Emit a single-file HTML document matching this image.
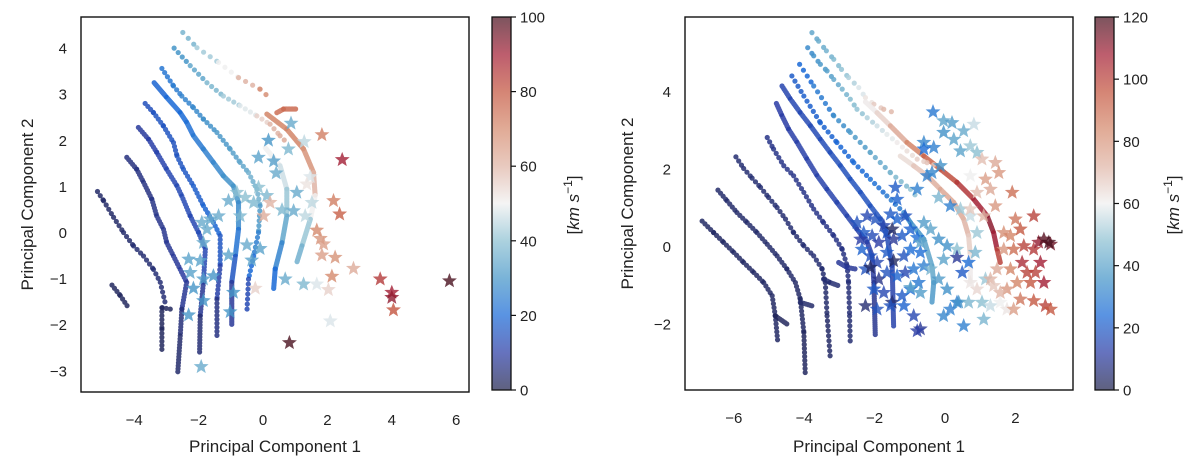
<!DOCTYPE html>
<html><head><meta charset="utf-8"><style>
body{margin:0;background:#fff;}
svg{display:block;font-family:"Liberation Sans",sans-serif;}
</style></head><body>
<svg id="fig" width="1200" height="462" viewBox="0 0 1200 462" xmlns="http://www.w3.org/2000/svg">
<defs>
<clipPath id="clipL"><rect x="81" y="17" width="388" height="375"/></clipPath>
<clipPath id="clipR"><rect x="685" y="17" width="388" height="373"/></clipPath>
</defs>
</svg>
<script>
// ---------- DATA: left panel ----------
const leftTickX = [-4,-2,0,2,4,6];
const leftTickY = [4,3,2,1,0,-1,-2,-3];
const leftCbarTicks = [0,20,40,60,80,100];
const leftVmax = 100;
const leftTracks = [
 [[-2.49,4.35,35],[-2.05,4.02,40],[-1.38,3.70,45],[-0.76,3.37,55],[-0.09,3.12,65],[0.22,2.92,72]],
 [[0.43,2.61,75],[0.64,2.69,75],[1.05,2.69,77]],
 [[0.12,2.58,70],[0.74,2.25,72],[1.26,1.82,70],[1.57,1.31,65],[1.62,0.81,55],[1.47,0.30,45],[1.21,-0.28,38],[1.05,-0.64,35]],
 [[-2.76,4.01,28],[-2.26,3.63,32],[-1.74,3.26,36],[-1.23,2.97,40],[-0.71,2.76,45],[-0.19,2.54,52],[0.22,2.36,58],[0.53,2.11,62],[0.74,1.96,62]],
 [[0.07,1.85,52],[0.53,1.46,48],[0.74,0.95,45],[0.74,0.37,38],[0.59,-0.21,30],[0.38,-0.78,22],[0.33,-1.22,18]],
 [[-3.14,3.57,22],[-2.78,3.19,24],[-2.52,2.97,25],[-2.16,2.72,27],[-1.85,2.47,28],[-1.43,2.18,30],[-1.02,1.82,32],[-0.71,1.53,33],[-0.45,1.31,35],[-0.19,0.95,38],[-0.09,0.59,35],[-0.14,0.01,28],[-0.29,-0.50,22],[-0.45,-1.00,18],[-0.50,-1.72,8]],
 [[-3.38,3.26,18],[-2.99,2.94,20],[-2.57,2.61,20],[-2.37,2.40,21],[-2.16,2.11,22],[-1.85,1.82,25],[-1.54,1.53,26],[-1.23,1.24,28],[-0.92,1.02,30],[-0.76,0.66,30],[-0.76,0.08,25],[-0.86,-0.50,20],[-0.97,-1.07,12],[-0.97,-2.01,5]],
 [[-3.66,2.81,14],[-3.40,2.61,15],[-3.09,2.32,16],[-2.78,1.96,15],[-2.67,1.67,15],[-2.47,1.38,16],[-2.16,1.02,17],[-1.85,0.59,18],[-1.54,0.23,20],[-1.33,-0.06,18],[-1.33,-0.71,14],[-1.43,-1.44,8],[-1.43,-2.30,4]],
 [[-3.87,2.29,8],[-3.55,2.03,10],[-3.30,1.75,11],[-2.99,1.38,12],[-2.67,1.02,13],[-2.52,0.80,13],[-2.26,0.37,13],[-2.00,0.01,12],[-1.79,-0.35,15],[-1.85,-1.07,10],[-1.95,-1.80,6],[-1.97,-2.63,3]],
 [[-4.23,1.64,5],[-3.92,1.38,6],[-3.71,1.10,6],[-3.45,0.73,6],[-3.30,0.37,7],[-3.09,0.08,7],[-2.99,-0.21,8],[-2.78,-0.50,8],[-2.57,-0.79,9],[-2.37,-1.07,10],[-2.52,-1.65,6],[-2.57,-2.23,4],[-2.65,-3.06,3]],
 [[-5.14,0.90,3],[-4.95,0.70,3],[-4.64,0.34,3],[-4.33,0.01,3],[-4.02,-0.28,4],[-3.71,-0.50,4],[-3.40,-0.79,4],[-3.19,-1.07,5],[-3.04,-1.51,4]],
 [[-2.88,-1.65,2],[-3.14,-1.62,2],[-3.14,-2.09,2],[-3.14,-2.56,2]],
 [[-4.69,-1.13,2],[-4.43,-1.36,2],[-4.18,-1.62,2]]
];
const leftStarX = [0.87,1.83,2.46,0.17,1.28,0.79,0.33,-0.14,0.41,1.47,1.05,2.19,2.38,0.59,0.95,1.52,0.02,1.31,1.67,1.78,1.88,1.83,2.24,2.81,2.14,3.64,4.00,4.00,4.05,5.79,2.09,0.82,1.26,1.67,2.03,-0.24,0.69,-0.50,-0.09,-0.35,-1.07,-1.54,-1.85,-2.26,-2.16,-2.31,-1.95,-1.85,-1.02,-2.31,-1.92,-0.92,-1.64,-1.74,-1.85,-1.90,-1.38,-1.07,-0.81,-0.55,-0.29,-0.14,0.12,-0.71,0.22,1.36];
const leftStarY = [2.38,2.13,1.59,2.01,1.98,1.82,1.56,1.64,1.30,1.22,0.88,0.70,0.41,0.50,0.48,0.66,0.37,0.37,0.06,-0.12,-0.24,-0.48,-0.53,-0.77,-0.94,-1.00,-1.29,-1.40,-1.67,-1.04,-1.91,-2.38,-1.11,-1.11,-1.23,-1.20,-1.00,-0.26,-0.34,-0.59,-0.48,-0.93,-1.00,-0.86,-1.20,-0.57,-0.60,-1.47,-1.71,-1.78,-2.90,-1.29,0.30,0.08,-0.21,0.23,0.37,0.70,0.88,0.77,0.66,0.99,0.81,0.37,0.66,1.06];
const leftStarV = [35,72,90,30,45,38,32,33,35,48,35,72,78,38,35,45,62,45,70,67,65,65,68,62,70,85,90,92,80,100,48,100,38,48,55,55,35,35,33,33,33,30,32,33,30,33,33,30,30,30,35,30,35,35,35,35,35,35,40,40,38,40,38,38,60,52];

// ---------- DATA: right panel ----------
const rightTickX = [-6,-4,-2,0,2];
const rightTickY = [4,2,0,-2];
const rightCbarTicks = [0,20,40,60,80,100,120];
const rightVmax = 120;
const rightTracks = [
 [[-3.78,5.54,40],[-3.59,5.32,42],[-3.37,5.07,43],[-3.16,4.85,45],[-2.94,4.59,48],[-2.74,4.38,50],[-2.45,4.12,55],[-2.26,3.86,60],[-2.02,3.69,65],[-1.74,3.56,70],[-1.50,3.49,72]],
 [[-2.26,3.75,60],[-1.93,3.47,62],[-1.55,3.13,70],[-1.08,2.70,80],[-0.60,2.35,90],[-0.13,2.01,95],[0.34,1.67,100],[0.82,1.23,105],[1.20,0.80,110],[1.38,0.37,112],[1.48,-0.06,105],[1.57,-0.40,95]],
 [[-3.90,5.15,32],[-3.73,4.94,34],[-3.54,4.72,36],[-3.35,4.55,38],[-3.16,4.33,40],[-2.92,4.08,43],[-2.69,3.82,46],[-2.50,3.56,48],[-2.21,3.34,50],[-1.93,3.13,55],[-1.65,2.91,57],[-1.36,2.70,60],[-1.08,2.48,62],[-0.79,2.27,65],[-0.51,2.18,68],[-0.23,2.10,70]],
 [[-1.27,2.35,62],[-0.89,2.10,66],[-0.51,1.84,72],[-0.13,1.49,75],[0.25,1.15,76],[0.53,0.72,74],[0.67,0.29,70],[0.72,-0.23,64],[0.72,-0.92,58]],
 [[-4.13,4.72,22],[-3.73,4.16,26],[-3.16,3.39,32],[-2.69,2.96,36],[-2.12,2.44,40],[-1.55,1.92,44],[-0.98,1.49,48],[-0.79,1.28,50]],
 [[-4.35,4.42,20],[-4.01,3.90,21],[-3.54,3.21,22],[-3.07,2.70,23],[-2.59,2.18,24],[-2.12,1.75,25],[-1.65,1.32,27],[-1.17,0.89,30]],
 [[-1.17,0.89,30],[-0.98,0.63,33],[-0.60,0.20,38],[-0.37,-0.49,42],[-0.32,-0.92,40],[-0.37,-1.43,35]],
 [[-4.63,4.16,14],[-4.39,3.82,15],[-4.11,3.47,15],[-3.82,3.13,16],[-3.54,2.78,16],[-3.26,2.44,17],[-2.97,2.10,17],[-2.69,1.75,18],[-2.40,1.41,18],[-2.12,1.06,18],[-1.83,0.72,18],[-1.65,0.29,17],[-1.50,-0.49,15],[-1.46,-2.04,12]],
 [[-4.79,3.71,12],[-4.63,3.39,12],[-4.44,3.04,12],[-4.20,2.70,13],[-3.92,2.27,13],[-3.63,1.84,13],[-3.35,1.49,14],[-3.07,1.15,14],[-2.78,0.80,14],[-2.50,0.46,14],[-2.21,0.12,13],[-2.07,-0.23,12],[-2.02,-0.92,10],[-1.98,-2.30,8]],
 [[-5.05,2.83,8],[-4.87,2.53,8],[-4.58,2.10,8],[-4.30,1.84,8],[-4.01,1.41,8],[-3.73,0.98,8],[-3.45,0.63,8],[-3.16,0.29,8],[-2.92,-0.06,7],[-2.78,-0.49,7],[-2.74,-0.92,6],[-2.71,-1.78,5],[-2.69,-2.55,5]],
 [[-5.94,2.33,5],[-5.72,2.03,5],[-5.48,1.78,5],[-5.24,1.54,5],[-5.01,1.28,5],[-4.77,1.02,5],[-4.53,0.72,5],[-4.30,0.37,5],[-4.01,0.03,5],[-3.73,-0.23,5],[-3.49,-0.57,5],[-3.40,-0.92,4],[-3.35,-1.78,4],[-3.26,-2.86,3]],
 [[-6.45,1.47,4],[-6.19,1.19,4],[-5.91,0.89,4],[-5.62,0.63,4],[-5.34,0.37,4],[-5.05,0.07,4],[-4.77,-0.23,4],[-4.49,-0.57,4],[-4.25,-0.92,4],[-4.11,-1.35,3],[-4.01,-2.21,3],[-3.97,-3.29,2]],
 [[-6.90,0.67,3],[-6.57,0.37,3],[-6.29,0.12,3],[-6.00,-0.14,3],[-5.72,-0.40,3],[-5.43,-0.66,3],[-5.15,-0.92,3],[-4.91,-1.26,3],[-4.82,-1.78,3],[-4.75,-2.47,3]],
 [[-4.82,-1.78,2],[-4.49,-1.99,2]],
 [[-3.02,-0.40,10],[-2.78,-0.53,10],[-2.53,-0.57,10]],
 [[-3.45,-0.83,5],[-3.26,-0.92,5],[-3.02,-1.00,5]],
 [[-4.11,-1.43,4],[-3.78,-1.52,4]]
];
const rightStarX = [-2.21,-1.98,-1.74,-1.55,-1.36,-1.13,-2.31,-2.07,-1.88,-1.65,-1.46,-1.22,-0.98,-0.79,-2.36,-2.12,-1.93,-1.65,-1.46,-1.17,-0.98,-0.70,-2.26,-2.12,-1.88,-1.65,-1.36,-1.13,-0.89,-0.60,-2.02,-1.74,-1.50,-1.22,-0.98,-0.75,-2.26,-1.93,-1.55,-1.17,-0.89,-0.70,-0.79,-1.41,-1.36,-1.50,-2.40,-2.50,
 -0.34,-0.04,0.20,0.53,0.82,-0.60,-0.04,0.25,0.44,-0.32,-0.60,-0.13,-0.51,-0.37,-0.79,-0.18,0.15,0.44,0.72,0.91,-0.60,-0.41,-0.18,-0.70,0.06,0.34,0.67,0.86,-0.04,-0.41,-0.18,0.06,0.34,0.15,-0.04,0.53,0.39,0.67,1.10,0.34,0.49,1.15,1.05,1.29,1.57,1.76,-0.98,-0.70,0.91,0.72,
 1.05,1.43,1.53,0.72,1.15,1.29,0.91,1.43,1.91,2.52,2.00,0.72,1.10,1.67,1.86,2.14,1.67,1.95,2.24,2.52,2.66,2.81,3.00,2.95,2.71,2.19,1.86,1.48,1.29,2.33,2.57,2.81,2.43,2.05,1.76,2.14,2.52,2.85,1.95,1.57,1.38,0.91,0.72,3.00];
const rightStarY = [0.80,0.72,0.55,0.85,0.72,0.80,0.37,0.29,0.12,0.37,0.20,0.29,0.46,0.24,-0.06,-0.23,-0.40,-0.14,-0.36,-0.23,-0.06,-0.14,-0.57,-0.53,-0.83,-0.66,-0.75,-0.66,-0.57,-0.49,-1.09,-1.18,-1.43,-1.26,-1.09,-0.92,-1.52,-1.61,-1.52,-1.52,-1.78,-2.12,-2.17,1.54,1.23,0.46,0.20,0.63,
 3.49,3.26,3.21,3.00,3.17,2.70,2.96,2.78,2.48,2.57,2.53,2.10,1.84,1.92,1.49,1.28,1.06,0.98,0.80,0.37,0.63,0.46,0.20,0.12,0.03,-0.06,-0.40,-0.14,-0.32,-0.57,-0.83,-1.09,-1.43,-1.61,-1.78,-2.04,-1.43,-1.43,-1.87,-0.27,-0.66,-0.83,-1.43,-1.52,-1.43,-1.61,-1.05,-1.18,2.44,2.61,
 2.27,2.18,1.92,1.84,1.75,1.49,1.41,1.06,1.41,0.80,0.72,0.98,0.80,0.37,0.29,0.46,-0.06,-0.06,0.03,-0.06,0.12,0.20,0.07,0.12,-0.40,-0.40,-0.57,-0.57,-0.83,-0.66,-0.66,-0.92,-0.92,-0.92,-1.09,-1.35,-1.39,-1.52,-1.61,-1.18,-1.00,-1.09,-0.92,-1.61];
const rightStarV = [15,18,14,20,22,18,20,16,12,18,10,20,22,25,22,18,15,20,3,18,25,25,18,3,8,18,22,15,28,30,20,15,5,20,25,28,5,18,18,22,15,10,12,20,22,3,12,18,
 28,40,38,42,55,32,35,40,40,30,25,35,30,32,30,45,30,50,55,50,38,40,35,40,35,48,25,45,40,45,38,35,30,30,32,30,35,45,45,10,20,50,48,55,60,62,40,38,48,50,
 70,75,80,60,78,75,70,80,90,100,88,68,72,82,85,95,80,90,100,102,110,118,115,120,108,105,85,75,72,100,100,108,95,85,80,88,95,100,78,72,68,65,62,95];

// ---------- rendering ----------
const leftGap = [8,1.5,1.5,6,1.5,5,1.5,4,3,3,5,4,4];
const rightGap = [8,1.5,7,1.5,7,6,1.5,2,2,5,5,4,4,2,2,2,2];
const NS = 'http://www.w3.org/2000/svg';
const svg = document.getElementById('fig');
const stops = [[0,[33,36,78]],[0.1,[42,60,165]],[0.2,[25,105,215]],[0.3,[70,150,200]],[0.4,[140,192,210]],[0.5,[240,240,240]],[0.6,[224,181,166]],[0.7,[213,138,109]],[0.8,[196,85,63]],[0.9,[163,31,53]],[1,[74,18,32]]];
function cmap(t){
  t=Math.max(0,Math.min(1,t));
  for(let i=1;i<stops.length;i++){
    if(t<=stops[i][0]){
      const a=stops[i-1],b=stops[i],f=(t-a[0])/(b[0]-a[0]);
      const c=a[1].map((v,k)=>Math.round(v+(b[1][k]-v)*f));
      return 'rgb('+c.join(',')+')';
    }
  }
  return 'rgb(74,18,32)';
}
function el(tag,attrs,parent){
  const e=document.createElementNS(NS,tag);
  for(const k in attrs) e.setAttribute(k,attrs[k]);
  (parent||svg).appendChild(e);
  return e;
}
function txt(s,attrs,parent){const t=el('text',attrs,parent);t.textContent=s;return t;}
function starPath(cx,cy,R,r){
  let d='';
  for(let i=0;i<10;i++){
    const a=-Math.PI/2+i*Math.PI/5, rr=i%2?r:R;
    d+=(i?'L':'M')+(cx+rr*Math.cos(a)).toFixed(1)+' '+(cy+rr*Math.sin(a)).toFixed(1);
  }
  return d+'Z';
}
function panel(p){
  const sx=v=>p.x0+p.kx*v, sy=v=>p.y0-p.ky*v;
  const g=el('g',{'clip-path':'url(#'+p.clip+')'});
  
  
  p.tracks.forEach((tr,ti)=>{
    const tg=el('g',{},g);
    
    
    for(let i=1;i<tr.length;i++){
      const a=tr[i-1],b=tr[i];
      const ln=el('line',{x1:sx(a[0]),y1:sy(a[1]),x2:sx(b[0]),y2:sy(b[1]),stroke:cmap((a[2]+b[2])/2/p.vmax),'stroke-width':5.2,'stroke-linecap':'round','stroke-dasharray':'0 '+p.gap[ti],opacity:0.85},tg);
      
      
    }
  });
  for(let i=0;i<p.sx.length;i++){
    const c=cmap(p.sv[i]/p.vmax);
    const st=el('path',{d:starPath(sx(p.sx[i]),sy(p.sy[i]),7,3),fill:c,stroke:c,'stroke-width':0.6,opacity:0.8},g);
    
    
  }
  const box=el('rect',{x:p.bx,y:p.by,width:p.bw,height:p.bh,fill:'none',stroke:'#111','stroke-width':1.4});
  
  
  p.tx.forEach(v=>{
    const t=txt(String(v).replace('-','\u2212'),{x:sx(v),y:p.by+p.bh+33,'text-anchor':'middle','font-size':15,fill:'#222'});
    
    
  });
  p.ty.forEach(v=>{
    const t=txt(String(v).replace('-','\u2212'),{x:p.bx-14,y:sy(v)+5,'text-anchor':'end','font-size':15,fill:'#222'});
    
    
  });
  const xt=txt('Principal Component 1',{x:p.bx+p.bw/2,y:452,'text-anchor':'middle','font-size':17,fill:'#222'});
  
  
  const yt=txt('Principal Component 2',{x:p.ylx,y:p.by+p.bh/2,'text-anchor':'middle','font-size':17,fill:'#222',transform:'rotate(-90 '+p.ylx+' '+(p.by+p.bh/2)+')'});
  
  
  const gid='grad'+p.name;
  const lg=el('linearGradient',{id:gid,x1:0,y1:1,x2:0,y2:0},svg.querySelector('defs'));
  for(let i=0;i<=20;i++) el('stop',{offset:i/20,'stop-color':cmap(i/20)},lg);
  const cb=el('rect',{x:p.cx,y:17,width:19,height:373,fill:'url(#'+gid+')',opacity:0.72});
  
  
  const cbf=el('rect',{x:p.cx,y:17,width:19,height:373,fill:'none',stroke:'#111','stroke-width':1.3});
  
  
  p.ct.forEach(v=>{
    const y=390-373*v/p.vmax;
    el('line',{x1:p.cx+19,y1:y,x2:p.cx+24,y2:y,stroke:'#111','stroke-width':1.2});
    const t=txt(String(v),{x:p.cx+28,y:y+5.5,'font-size':15,fill:'#222'});
    
    
  });
  const cl=el('text',{x:p.clx,y:205,'text-anchor':'middle','font-size':17,fill:'#222',transform:'rotate(-90 '+p.clx+' 205)'});
  
  
  cl.innerHTML='[<tspan font-style="italic">km s</tspan><tspan dy="-7" font-size="12">\u22121</tspan><tspan dy="7">]</tspan>';
}
panel({name:'left',clip:'clipL',x0:263,kx:32.2,y0:233,ky:46.1,bx:81,by:17,bw:388,bh:375,tracks:leftTracks,gap:leftGap,sx:leftStarX,sy:leftStarY,sv:leftStarV,vmax:leftVmax,tx:leftTickX,ty:leftTickY,ct:leftCbarTicks,cx:492,clx:579,ylx:33});
panel({name:'right',clip:'clipR',x0:945,kx:35.2,y0:247,ky:38.7,bx:685,by:17,bw:388,bh:373,tracks:rightTracks,gap:rightGap,sx:rightStarX,sy:rightStarY,sv:rightStarV,vmax:rightVmax,tx:rightTickX,ty:rightTickY,ct:rightCbarTicks,cx:1095,clx:1179,ylx:633});
</script>
</body></html>
